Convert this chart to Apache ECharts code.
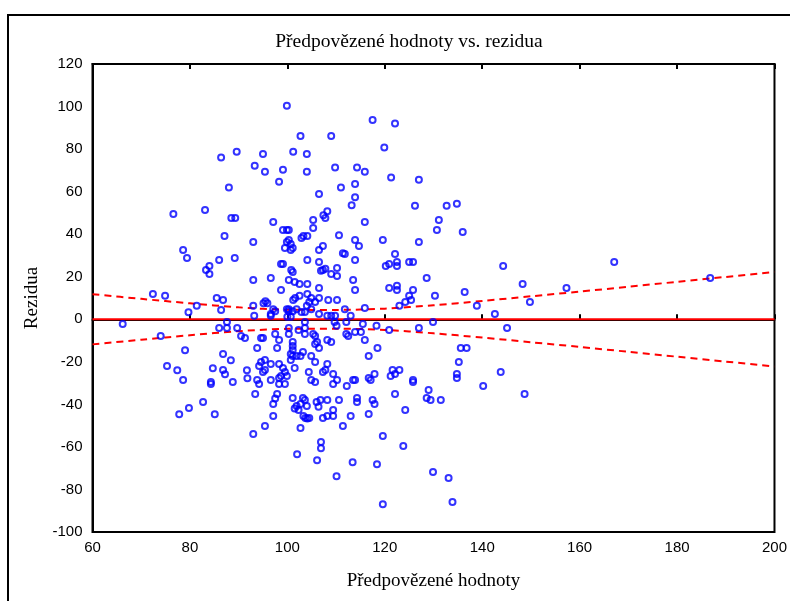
<!DOCTYPE html>
<html><head><meta charset="utf-8">
<script src="https://cdn.jsdelivr.net/npm/echarts@6/dist/echarts.min.js"></script>
<style>html,body{margin:0;padding:0;background:#fff}#c{width:790px;height:601px}</style>
</head><body><div id="c"></div>
<script>
const predicted = [86.4,89.6,88.0,76.6,83.1,88.5,89.3,87.1,78.6,79.4,86.0,89.2,84.0,83.3,84.0,72.4,74.9,85.5,86.8,81.4,79.7,86.4,
66.2,74.0,86.0,87.6,87.6,89.7,90.5,91.3,79.0,86.8,88.4,75.3,77.4,84.7,86.8,87.2,91.7,91.8,78.6,84.3,84.3,88.8,82.7,79.8,77.8,85.1,
99.9,117.5,102.7,109.0,95.0,101.2,104.0,119.9,93.3,95.4,99.1,104.0,109.8,114.3,115.9,98.3,111.0,113.9,106.5,113.9,113.2,
108.2,107.4,107.8,97.1,115.9,105.3,105.3,99.1,99.9,100.3,93.0,100.3,100.7,99.9,101.1,99.5,100.7,102.9,103.3,104.1,110.6,113.9,114.7,119.6,107.3,106.5,111.4,111.8,104.1,106.5,113.9,98.7,99.1,100.8,101.1,107.8,106.9,107.3,110.2,109.0,110.2,120.2,93.0,96.6,100.3,101.5,102.5,104.1,113.5,113.9,98.7,106.5,102.5,104.1,104.9,106.5,104.5,105.7,101.2,101.6,108.4,110.2,95.5,95.1,95.9,93.0,104.0,104.9,97.1,97.5,96.6,99.9,100.3,101.9,101.1,100.3,102.9,103.6,111.8,115.9,106.5,93.2,96.6,100.0,100.7,108.2,109.0,109.8,113.0,
94.6,95.0,97.5,98.3,100.3,100.3,103.6,103.6,102.3,103.6,105.3,105.7,106.1,106.5,105.7,108.2,109.0,109.7,110.1,112.1,112.1,112.5,113.9,115.1,115.5,118.3,115.9,118.5,116.7,93.8,97.9,101.1,101.1,101.1,100.7,101.1,100.7,101.9,103.2,102.7,104.9,105.7,
93.8,94.2,94.6,94.2,95.4,95.0,96.6,95.4,98.3,99.1,99.5,96.6,98.3,98.7,99.9,98.3,99.5,101.5,104.4,104.9,105.7,107.3,107.8,108.2,109.4,110.2,109.4,112.2,113.9,113.5,116.7,117.1,117.9,93.4,97.9,97.5,97.1,101.1,103.2,103.6,102.7,104.0,106.0,106.4,106.8,108.2,110.6,114.3,114.3,117.5,117.9,101.9,101.5,102.3,109.4,97.1,103.3,103.7,104.5,104.1,107.3,108.2,109.4,113.0,116.7,95.4,102.7,111.4,93.0,119.6,
106.9,106.9,102.0,106.1,113.4,118.4,110.1,119.6,
122.1,121.3,127.0,126.2,132.7,134.8,131.1,130.7,136.0,127.0,122.1,120.9,122.5,122.5,125.0,125.8,128.6,144.3,148.3,120.9,122.5,122.5,125.8,125.0,125.4,124.2,123.0,130.3,136.4,138.9,142.6,
120.9,127.0,129.9,145.1,135.6,136.8,135.2,134.8,134.8,121.6,123.0,121.2,122.1,125.8,125.8,129.0,128.6,129.4,131.5,122.1,124.2,140.2,143.8,148.7,123.8,129.9,133.1,133.9,
149.8,157.3,167.1,186.8];
const residuals = [76.0,78.8,61.9,49.5,51.4,47.6,47.6,39.2,32.6,28.8,27.9,28.8,25.1,23.2,21.3,11.9,11.0,10.0,9.1,6.3,3.3,4.4,
-2.2,-7.9,-4.1,-4.1,-1.3,-4.1,-7.9,-8.8,-14.6,-16.3,-19.3,-22.0,-24.0,-23.0,-23.8,-25.9,-24.0,-27.7,-28.5,-29.5,-30.4,-29.5,-38.9,-41.7,-44.7,-44.7,
100.4,93.7,86.2,86.2,77.7,78.8,77.7,80.7,72.2,69.4,70.3,69.4,71.3,71.3,69.4,64.6,61.9,63.6,58.9,57.4,53.6,
50.8,48.9,47.6,45.7,45.7,46.7,42.9,42.0,42.0,42.0,36.3,37.3,35.4,36.3,33.5,33.5,32.6,38.2,39.2,39.2,39.5,37.3,34.5,37.3,34.5,32.6,31.0,30.7,27.9,26.9,27.9,26.0,26.0,23.2,22.2,23.8,22.8,23.2,24.1,21.3,20.4,25.1,18.5,19.4,18.5,17.5,16.6,16.6,18.5,13.8,13.8,14.7,11.0,11.9,10.0,10.0,8.1,8.1,9.1,10.0,9.1,9.1,8.5,7.5,7.5,6.3,6.3,4.7,4.7,3.8,2.5,4.7,4.7,4.7,3.8,3.8,3.4,3.4,4.7,5.3,2.5,1.6,1.6,1.2,1.2,1.6,1.6,1.6,1.6,
-8.8,-8.8,-6.9,-9.7,-4.1,-6.9,-1.3,-4.1,-5.0,-6.9,-6.9,-7.9,-10.7,-13.5,-11.6,-9.7,-10.7,-1.3,-3.1,-1.3,-6.9,-7.9,-6.0,-6.0,-2.2,-3.1,-9.7,-13.5,-17.3,-13.5,-13.5,-10.7,-12.6,-14.4,-16.3,-17.3,-19.1,-17.3,-15.4,-17.3,-17.3,-20.1,
-28.5,-30.4,-20.1,-22.0,-19.1,-24.8,-21.0,-23.8,-21.0,-22.9,-24.8,-28.5,-27.6,-26.7,-26.7,-30.4,-30.4,-22.9,-24.8,-28.5,-29.5,-24.8,-23.8,-21.0,-25.7,-28.5,-30.4,-31.4,-28.5,-28.5,-27.6,-28.5,-25.7,-35.1,-35.1,-37.3,-39.8,-37.0,-37.0,-37.9,-39.8,-40.8,-38.9,-41.1,-37.9,-37.9,-37.9,-37.0,-38.9,-37.9,-39.8,-40.8,-42.0,-42.6,-42.6,-45.5,-45.5,-46.4,-46.4,-46.7,-46.4,-45.5,-45.5,-45.5,-44.5,-50.2,-51.1,-50.2,-53.9,-54.9,
-57.7,-60.6,-63.5,-66.3,-67.2,-68.2,-73.8,-87.0,
92.0,66.6,65.6,53.4,53.4,54.3,46.7,42.0,41.0,36.3,30.7,26.0,26.9,25.1,26.9,26.9,19.4,25.1,16.6,14.7,15.7,13.8,13.8,11.0,9.1,8.1,6.3,11.0,12.8,6.3,2.5,
-5.0,-4.1,-1.3,-4.1,-13.5,-13.5,-20.1,-25.7,-27.6,-23.8,-23.8,-26.7,-25.7,-28.5,-29.5,-33.2,-37.0,-37.9,-37.9,-35.1,-42.6,-31.4,-24.8,-35.1,-59.6,-71.8,-74.6,-85.9,
8.1,14.7,26.9,19.4];
const bandX = [60,70,80,90,100,110,120,130,140,150,160,170,180,190,200];
const bandUpper = [11.8,9.6,7.5,5.6,4.5,4.4,5.0,6.6,8.6,10.8,13.0,15.3,17.6,19.9,22.2];
const bandLower = [-11.8,-9.6,-7.5,-5.6,-4.5,-4.4,-5.0,-6.6,-8.6,-10.8,-13.0,-15.3,-17.6,-19.9,-22.2];
const zeroLineX = [60,200];
const zeroLineY = [0,0];
const xTicks = {min:60,max:200,step:20};
const yTicks = {min:-100,max:120,step:20};

const chart = echarts.init(document.getElementById('c'), null, {renderer:'canvas'});
const pts = predicted.map((x,i)=>[x,residuals[i]]);
const up = bandX.map((x,i)=>[x,bandUpper[i]]);
const lo = bandX.map((x,i)=>[x,bandLower[i]]);
const zl = zeroLineX.map((x,i)=>[x,zeroLineY[i]]);
const labelFont = {fontFamily:'Liberation Sans Narrow, Liberation Sans, sans-serif', fontSize:15, color:'#000'};
chart.setOption({
  animation:false,
  backgroundColor:'#fff',
  grid:{left:92.5,right:8,top:64,bottom:69,show:true,borderColor:'#000',borderWidth:2,containLabel:false},
  graphic:[
    {type:'rect',shape:{x:8,y:15,width:800,height:600},style:{fill:'none',stroke:'#000',lineWidth:2},silent:true},
    {type:'text',x:409,y:42,style:{text:'Předpovězené hodnoty vs. rezidua',font:'19.5px "Liberation Serif", serif',fill:'#000',textAlign:'center',textVerticalAlign:'middle'}}
  ],
  xAxis:[
    {type:'value',min:xTicks.min,max:xTicks.max,interval:xTicks.step,position:'bottom',
     name:'Předpovězené hodnoty',nameLocation:'middle',nameGap:40,
     nameTextStyle:{fontFamily:'Liberation Serif, serif',fontSize:19,color:'#000'},
     axisLine:{show:true,lineStyle:{color:'#000',width:2}},
     axisTick:{show:true,inside:true,length:5,lineStyle:{color:'#000',width:2}},
     axisLabel:Object.assign({margin:8},labelFont),splitLine:{show:false}},
    {type:'value',min:xTicks.min,max:xTicks.max,interval:xTicks.step,position:'top',
     axisLine:{show:true,lineStyle:{color:'#000',width:2}},
     axisTick:{show:true,inside:true,length:5,lineStyle:{color:'#000',width:2}},
     axisLabel:{show:false},splitLine:{show:false}}
  ],
  yAxis:[
    {type:'value',min:yTicks.min,max:yTicks.max,interval:yTicks.step,
     name:'Rezidua',nameLocation:'middle',nameGap:48,nameRotate:90,
     nameTextStyle:{fontFamily:'Liberation Serif, serif',fontSize:19,color:'#000'},
     axisLine:{show:true,lineStyle:{color:'#000',width:2}},
     axisTick:{show:false},
     axisLabel:Object.assign({margin:10},labelFont),splitLine:{show:false}}
  ],
  series:[
    {type:'line',data:zl,symbol:'none',lineStyle:{color:'#ff0000',width:2},z:1,silent:true},
    {type:'line',data:up,smooth:0.3,symbol:'none',lineStyle:{color:'#ff0000',width:2,type:[7,5]},z:1,silent:true},
    {type:'line',data:lo,smooth:0.3,symbol:'none',lineStyle:{color:'#ff0000',width:2,type:[7,5]},z:1,silent:true},
    {type:'scatter',data:pts,symbol:'circle',symbolSize:6,
     itemStyle:{color:'rgba(255,255,255,0)',borderColor:'#0000ff',borderWidth:2},z:3,silent:true}
  ]
});
</script></body></html>
